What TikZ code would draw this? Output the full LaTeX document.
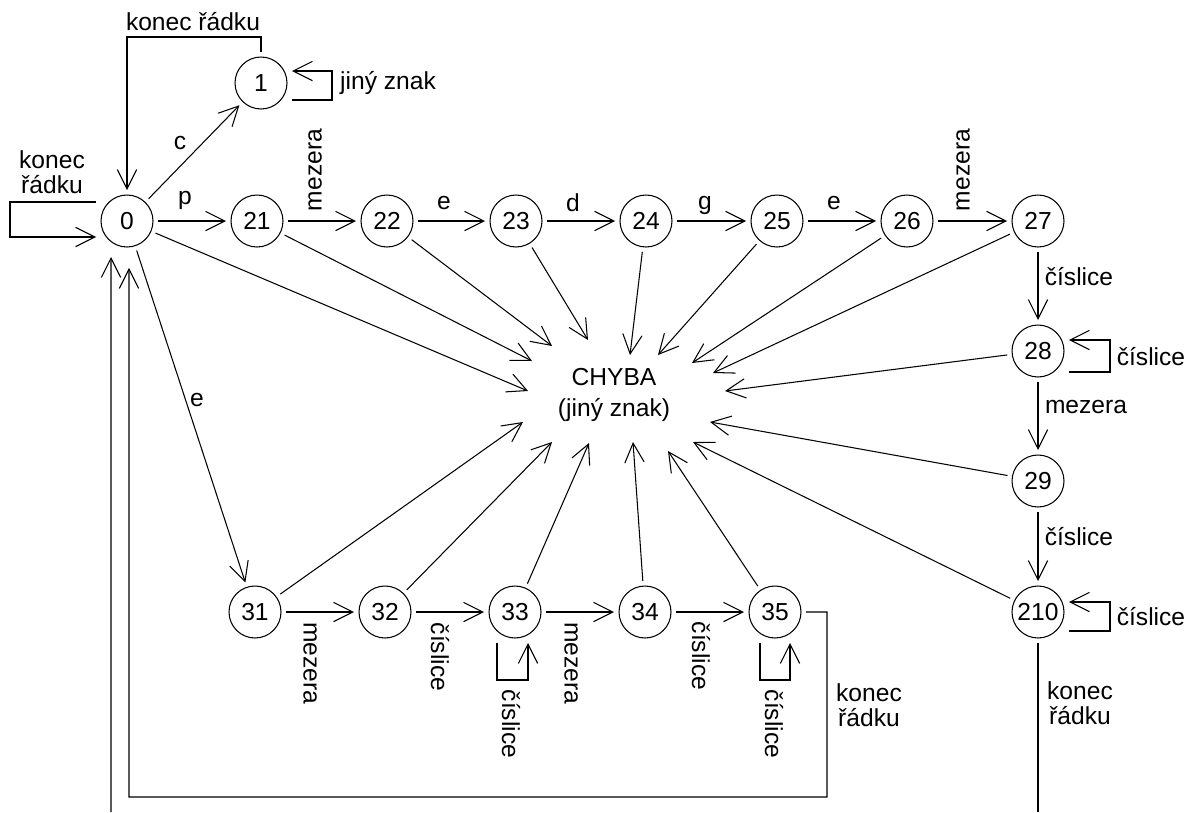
\documentclass[tikz,border=0pt]{standalone}
\usepackage{fontspec}
\setmainfont{Liberation Sans}
\usetikzlibrary{arrows.meta}

\begin{document}
\begin{tikzpicture}[
  x=0.02cm, y=-0.02cm,
  font=\fontsize{14}{14.5}\selectfont,
  statecircle/.style={circle, draw, line width=0.6pt, minimum size=1.04cm, inner sep=0pt, outer sep=0.1cm},
  edgelabel/.style={inner sep=1pt, align=center},
  arr/.style={line width=0.6pt, -{Straight Barb[length=11pt, width=11pt]}},
  link/.style={line width=0.6pt}
]
\useasboundingbox (0,0) rectangle (1197,812);

% States of the automaton
\node[statecircle] (n0) at (127,221) {0};
\node[statecircle] (n1) at (261,83) {1};
\node[statecircle] (n21) at (257,221) {21};
\node[statecircle] (n22) at (387,221) {22};
\node[statecircle] (n23) at (516,221) {23};
\node[statecircle] (n24) at (646,221) {24};
\node[statecircle] (n25) at (777,221) {25};
\node[statecircle] (n26) at (907,221) {26};
\node[statecircle] (n27) at (1038,221) {27};
\node[statecircle] (n28) at (1038,351) {28};
\node[statecircle] (n29) at (1038,481) {29};
\node[statecircle] (n210) at (1038,612) {210};
\node[statecircle] (n31) at (255,612) {31};
\node[statecircle] (n32) at (385,612) {32};
\node[statecircle] (n33) at (515,612) {33};
\node[statecircle] (n34) at (645,612) {34};
\node[statecircle] (n35) at (775,612) {35};

% Error state in the middle
\node[align=center] (chyba) at (614,395) {CHYBA\\[0.1cm](jiný znak)};

% Transitions along the top row
\draw[arr] (n0) -- (n1);
\draw[arr] (n0) -- (n21);
\draw[arr] (n21) -- (n22);
\draw[arr] (n22) -- (n23);
\draw[arr] (n23) -- (n24);
\draw[arr] (n24) -- (n25);
\draw[arr] (n25) -- (n26);
\draw[arr] (n26) -- (n27);
\draw[arr] (n27) -- (n28);
\draw[arr] (n28) -- (n29);
\draw[arr] (n29) -- (n210);

% Transitions along the bottom row
\draw[arr] (n0) -- (n31);
\draw[arr] (n31) -- (n32);
\draw[arr] (n32) -- (n33);
\draw[arr] (n33) -- (n34);
\draw[arr] (n34) -- (n35);

% Self loops
\draw[arr] ([yshift=0.38cm]n0.west) -- ++(-86,0) |- ([yshift=-0.32cm]n0.west);
\draw[arr] ([yshift=-0.34cm]n1.east) -- ++(40,0) |- ([yshift=0.24cm]n1.east);
\draw[arr] ([yshift=-0.42cm]n28.east) -- ++(41,0) |- ([yshift=0.22cm]n28.east);
\draw[arr] ([yshift=-0.38cm]n210.east) -- ++(41,0) |- ([yshift=0.2cm]n210.east);
\draw[arr] ([xshift=-0.36cm]n33.south) -- ++(0,37) -| ([xshift=0.26cm]n33.south);
\draw[arr] ([xshift=-0.3cm]n35.south) -- ++(0,37) -| ([xshift=0.3cm]n35.south);

% Line ends back to state 0
\draw[arr] (n1.north) -- ++(0,-15) -| (n0.north);
\draw[arr, shorten >=0.32cm] (n35.east) -- ++(21,0) |- (129,797) -- ([xshift=0.04cm]n0.south);
\coordinate (out210) at (1038,812);
\coordinate (in0) at (111,812);
\draw[link] (n210.south) -- (out210);
\draw[arr, shorten >=0.1cm] (in0) -- ([xshift=-0.32cm]n0.south);

% Arrows into the error state
\coordinate (e0) at (528,391);
\coordinate (e21) at (532,361);
\coordinate (e22) at (552,346);
\coordinate (e23) at (588,340);
\coordinate (e24) at (630,355);
\coordinate (e25) at (658,355);
\coordinate (e26) at (692,363);
\coordinate (e27) at (713,373);
\coordinate (e28) at (725,391);
\coordinate (e29) at (710,422);
\coordinate (e210) at (693,442);
\coordinate (e35) at (668,451);
\coordinate (e34) at (633,442);
\coordinate (e33) at (589,443);
\coordinate (e32) at (552,442);
\coordinate (e31) at (523,422);
\draw[arr] (n0) -- (e0);
\draw[arr] (n21) -- (e21);
\draw[arr] (n22) -- (e22);
\draw[arr] (n23) -- (e23);
\draw[arr] (n24) -- (e24);
\draw[arr] (n25) -- (e25);
\draw[arr] (n26) -- (e26);
\draw[arr] (n27) -- (e27);
\draw[arr] (n28) -- (e28);
\draw[arr] (n29) -- (e29);
\draw[arr] (n210) -- (e210);
\draw[arr] (n35) -- (e35);
\draw[arr] (n34) -- (e34);
\draw[arr] (n33) -- (e33);
\draw[arr] (n32) -- (e32);
\draw[arr] (n31) -- (e31);

% Labels of the transitions
\node[edgelabel] (lkon1) at (193,22) {konec řádku};
\node[edgelabel] (lkon0) at (52,172) {konec\\řádku};
\node[edgelabel] (ljiny) at (388,83) {jiný znak};
\node[edgelabel] (lc) at (180,143) {c};
\node[edgelabel] (lp) at (185,200) {p};
\node[edgelabel, rotate=90] (lmez21) at (315,170) {mezera};
\node[edgelabel] (le22) at (444,203) {e};
\node[edgelabel] (ld23) at (573,203) {d};
\node[edgelabel] (lg24) at (705,205) {g};
\node[edgelabel] (le25) at (834,203) {e};
\node[edgelabel, rotate=90] (lmez26) at (963,170) {mezera};
\node[edgelabel] (lcis27) at (1079,277) {číslice};
\node[edgelabel] (lcis28) at (1151,357) {číslice};
\node[edgelabel] (lmez28) at (1086,407) {mezera};
\node[edgelabel] (lcis29) at (1079,537) {číslice};
\node[edgelabel] (lcis210) at (1151,617) {číslice};
\node[edgelabel] (lkon210) at (1080,703) {konec\\řádku};
\node[edgelabel] (le0) at (197,400) {e};
\node[edgelabel, rotate=-90] (lmez31) at (310,663) {mezera};
\node[edgelabel, rotate=-90] (lcis32) at (440,657) {číslice};
\node[edgelabel, rotate=-90] (lcis33) at (511,724) {číslice};
\node[edgelabel, rotate=-90] (lmez33) at (571,663) {mezera};
\node[edgelabel, rotate=-90] (lcis34) at (701,656) {číslice};
\node[edgelabel, rotate=-90] (lcis35) at (774,724) {číslice};
\node[edgelabel] (lkon35) at (869,705) {konec\\řádku};

\end{tikzpicture}
\end{document}
